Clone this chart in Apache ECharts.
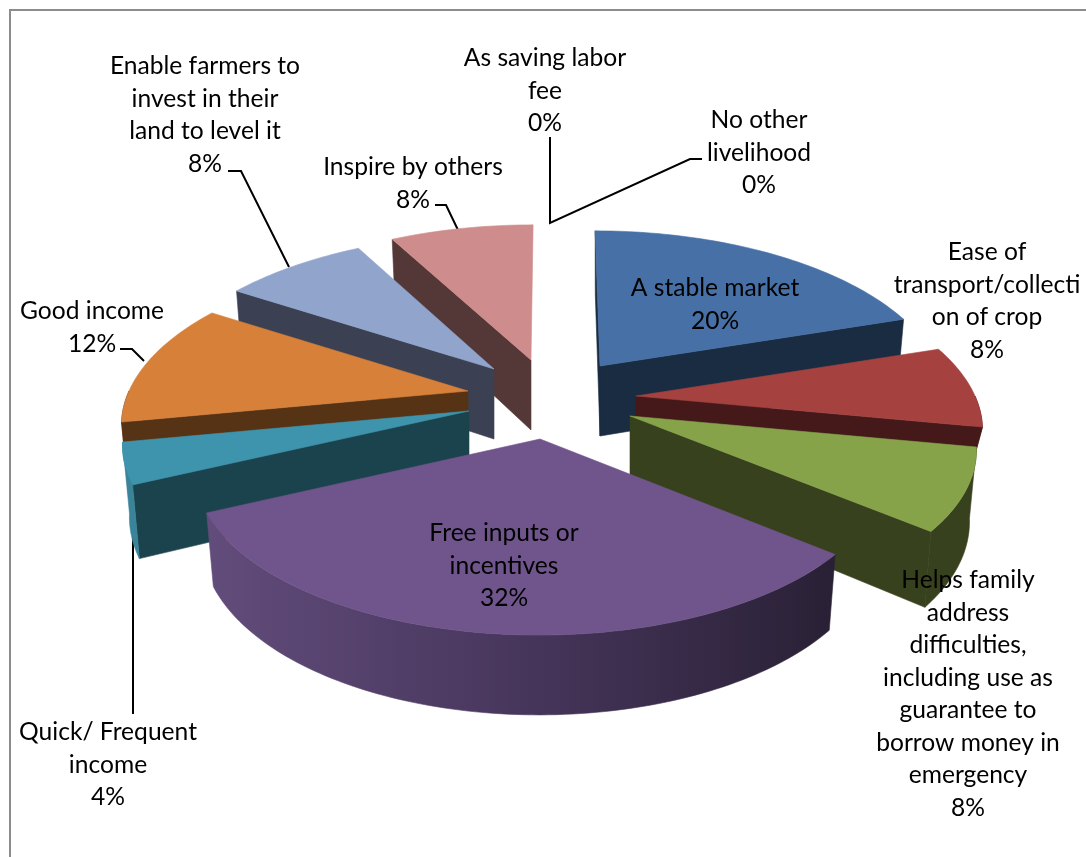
<!DOCTYPE html>
<html>
<head>
<meta charset="utf-8">
<title>Reasons for growing the crop</title>
<script src="https://cdn.jsdelivr.net/npm/echarts@6/dist/echarts.min.js"></script>
<style>
html,body{margin:0;padding:0;background:#fff;}
#chart{width:1086px;height:857px;}
</style>
</head>
<body>
<div id="chart"></div>
<script>
// Series, clockwise from twelve o'clock
const categories = [
  'A stable market',
  'Ease of\ntransport/collecti\non of crop',
  'Helps family\naddress\ndifficulties,\nincluding use as\nguarantee to\nborrow money in\nemergency',
  'Free inputs or\nincentives',
  'Quick/ Frequent\nincome',
  'Good income',
  'Enable farmers to\ninvest in their\nland to level it',
  'Inspire by others',
  'As saving labor\nfee',
  'No other\nlivelihood'
];
const shares = [20, 8, 8, 32, 4, 12, 8, 8, 0, 0];

// Appearance per slice
const topColors  = ['#4670a6', '#a54240', '#87a34a', '#70558c', '#3e94ad', '#d7803a', '#91a5cc', '#ce8d8c'];
const faceColors = ['#1a2c42', '#45191a', '#38411d', '#2a2036', '#1b434d', '#573315', '#3b4052', '#543838'];
const rimColors  = ['#1a2c42', '#45191a', '#38411d', null, '#3a8499', '#573315', '#3b4052', '#543838'];

// Exploded position of each slice's tip and its wall height
const tipX = [600, 636, 630, 540, 469, 468, 494, 531];
const tipY = [366, 396, 416, 439, 411, 391, 369, 360];
const wallHeight = [70, 24, 70, 70, 70, 70, 70, 70];
// Back-to-front painting order
const paintOrder = [7, 6, 0, 5, 1, 4, 2, 3];

// Label anchors (centre x, top y) and leader lines
const labelX = [715, 987, 968, 504, 108, 92, 205, 413, 545, 759];
const labelY = [272, 236, 564, 517, 716, 295, 50, 151, 42, 104];
const leaders = [
  [[228, 171], [241, 171], [289, 267]],
  [[435, 205], [446, 205], [458, 230]],
  [[120, 349], [132, 349], [144, 361]],
  [[133, 537], [133, 714]],
  [[550, 137], [550, 223], [690, 159], [702, 159]]
];

// Perspective projection of the pie
const radiusX = 339, radiusY = 160, perspective = 0.184;
const vanishX = 552, skew = 0.1, floorScaleX = 0.98, floorScaleY = 1.05;

const total = shares.reduce((a, b) => a + b, 0);
const startAngles = [];
shares.reduce((sum, v, i) => { startAngles[i] = sum / total * 2 * Math.PI; return sum + v; }, 0);

function rimPoint(i, theta) {
  const u = Math.sin(theta), v = Math.cos(theta), w = 1 / (1 + perspective * v);
  const dx = radiusX * u * w - (tipX[i] - vanishX) * skew * v;
  const dy = -radiusY * v * w;
  return {
    top: [tipX[i] + dx, tipY[i] + dy],
    floor: [tipX[i] + floorScaleX * dx, tipY[i] + wallHeight[i] + floorScaleY * dy]
  };
}

function arc(i, a0, a1, key) {
  const pts = [], n = Math.max(4, Math.ceil((a1 - a0) / 0.02));
  for (let k = 0; k <= n; k++) pts.push(rimPoint(i, a0 + (a1 - a0) * k / n)[key]);
  return pts;
}

function poly(points, fill) {
  return { type: 'polygon', shape: { points }, style: { fill, stroke: fill, lineWidth: 0.6 } };
}

function renderSlice(params, api) {
  const i = api.value(0);
  const a0 = startAngles[i];
  const a1 = a0 + api.value(1) / total * 2 * Math.PI;
  const tipTop = [tipX[i], tipY[i]], tipFloor = [tipX[i], tipY[i] + wallHeight[i]];
  const children = [];
  // A cut face shows only when it turns towards the viewer
  const visibleCuts = [];
  if (a0 >= Math.PI || a0 === 0) visibleCuts.push(a0);
  if (a1 <= Math.PI) visibleCuts.push(a1);
  visibleCuts.forEach(a => {
    const p = rimPoint(i, a);
    children.push(poly([tipTop, p.top, p.floor, tipFloor], faceColors[i]));
  });
  // Outer wall is only seen on the near half of the pie
  const r0 = Math.max(a0, Math.PI * 0.5), r1 = Math.min(a1, Math.PI * 1.5);
  if (r1 > r0) {
    const fill = rimColors[i] || new echarts.graphic.LinearGradient(0, 0, 1, 0, [
      { offset: 0, color: '#624c7b' },
      { offset: 0.5, color: '#47365c' },
      { offset: 1, color: '#292035' }
    ]);
    children.push(poly(arc(i, r0, r1, 'top').concat(arc(i, r0, r1, 'floor').reverse()), fill));
  }
  children.push(poly([tipTop].concat(arc(i, a0, a1, 'top')), topColors[i]));
  return { type: 'group', children };
}

function renderLabel(params, api) {
  const i = api.value(0);
  return {
    type: 'text',
    style: {
      text: categories[i] + '\n' + api.value(1) + '%',
      x: labelX[i], y: labelY[i],
      align: 'center', verticalAlign: 'top',
      font: '24.6px Lato, "Open Sans", sans-serif',
      lineHeight: 32.5,
      fill: '#000'
    }
  };
}

function renderLeader(params, api) {
  return {
    type: 'polyline',
    shape: { points: leaders[api.value(0)] },
    style: { stroke: '#000', lineWidth: 2, fill: null }
  };
}

const chart = echarts.init(document.getElementById('chart'), null, { renderer: 'canvas' });
chart.setOption({
  animation: false,
  backgroundColor: '#fff',
  graphic: [
    { type: 'line', shape: { x1: 10, y1: 10, x2: 1086, y2: 10 }, style: { stroke: '#8c8c8c', lineWidth: 2 } },
    { type: 'line', shape: { x1: 10, y1: 9, x2: 10, y2: 857 }, style: { stroke: '#8c8c8c', lineWidth: 2 } }
  ],
  series: [
    {
      type: 'custom', coordinateSystem: 'none', z: 2, silent: true,
      renderItem: renderLeader,
      data: leaders.map((_, i) => [i])
    },
    {
      type: 'custom', coordinateSystem: 'none', z: 3, silent: true,
      renderItem: renderSlice,
      data: paintOrder.map(i => [i, shares[i]])
    },
    {
      type: 'custom', coordinateSystem: 'none', z: 4, silent: true,
      renderItem: renderLabel,
      data: categories.map((_, i) => [i, shares[i]])
    }
  ]
});
</script>
</body>
</html>
